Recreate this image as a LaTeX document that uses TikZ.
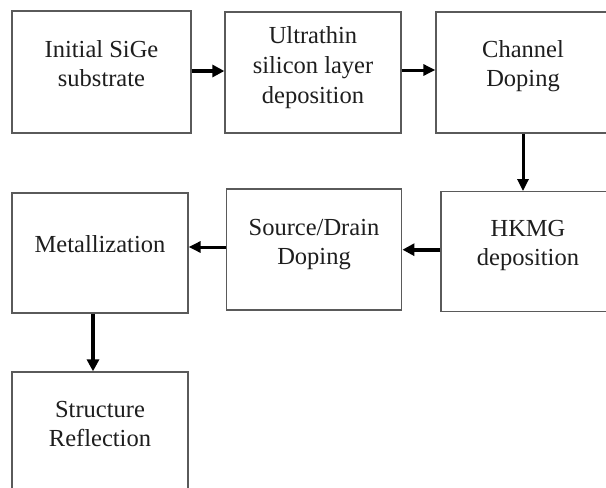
\documentclass[tikz,border=0pt]{standalone}
\usepackage{fontspec}
\setmainfont{Liberation Serif}
\usetikzlibrary{arrows.meta}
\definecolor{boxline}{HTML}{5A5A5A}
\definecolor{txt}{HTML}{1E1E1E}
\tikzset{
  box/.style={draw=boxline, line width=1.3pt, fill=white, inner sep=0pt},
  lbl/.style={anchor=north, inner sep=0pt, align=center, text=txt,
              font=\fontsize{24.5}{28.5}\selectfont},
  conn/.style={line width=3pt, -{Triangle[length=12pt, width=11pt]}},
  connthick/.style={line width=4pt, -{Triangle[length=12pt, width=12pt]}}
}
\begin{document}
\begin{tikzpicture}[x=1pt, y=-1pt]
\useasboundingbox (0,0) rectangle (606,488);
\fill[white] (0,0) rectangle (606,488);
% boxes
\node[box, minimum width=179pt, minimum height=122pt] (b1) at (101.5,72) {};
\node[box, minimum width=176pt, minimum height=121pt] (b2) at (313,72.5) {};
\node[box, minimum width=175pt, minimum height=121pt] (b3) at (523.5,72.5) {};
\node[box, minimum width=174pt, minimum height=120pt] (b4) at (528,251.7) {};
\node[box, minimum width=175pt, minimum height=121pt] (b5) at (314.3,249.5) {};
\node[box, minimum width=176pt, minimum height=120pt] (b6) at (100,253) {};
\node[box, minimum width=176pt, minimum height=120pt] (b7) at (100,432) {};
% labels
\node[lbl] (t1) at (101.5,40.5) {Initial SiGe\\substrate};
\node[lbl, font=\fontsize{24.5}{30}\selectfont] (t2) at (313,26.5) {Ultrathin\\silicon layer\\deposition};
\node[lbl] (t3) at (523,40.5) {Channel\\Doping};
\node[lbl] (t4) at (528,220.5) {HKMG\\deposition};
\node[lbl, font=\fontsize{24.5}{29}\selectfont] (t5) at (314,219.5) {Source/Drain\\Doping};
\node[lbl] (t6) at (100,235) {Metallization};
\node[lbl, font=\fontsize{24.5}{29.5}\selectfont] (t7) at (100,401) {Structure\\Reflection};
% connectors
\draw[connthick] ([yshift=1pt]b1.east) -- ([yshift=1pt]b1.east -| b2.west);
\draw[conn] ([yshift=2.5pt]b2.east) -- ([yshift=2.5pt]b2.east -| b3.west);
\draw[conn] ([xshift=-0.5pt]b3.south) -- ([xshift=-0.5pt]b3.south |- b4.north);
\draw[connthick] ([yshift=2pt]b4.west) -- ([yshift=2pt]b4.west -| b5.east);
\draw[conn] ([yshift=2.5pt]b5.west) -- ([yshift=2.5pt]b5.west -| b6.east);
\draw[connthick] ([xshift=-7pt]b6.south) -- ([xshift=-7pt]b6.south |- b7.north);
\end{tikzpicture}
\end{document}
